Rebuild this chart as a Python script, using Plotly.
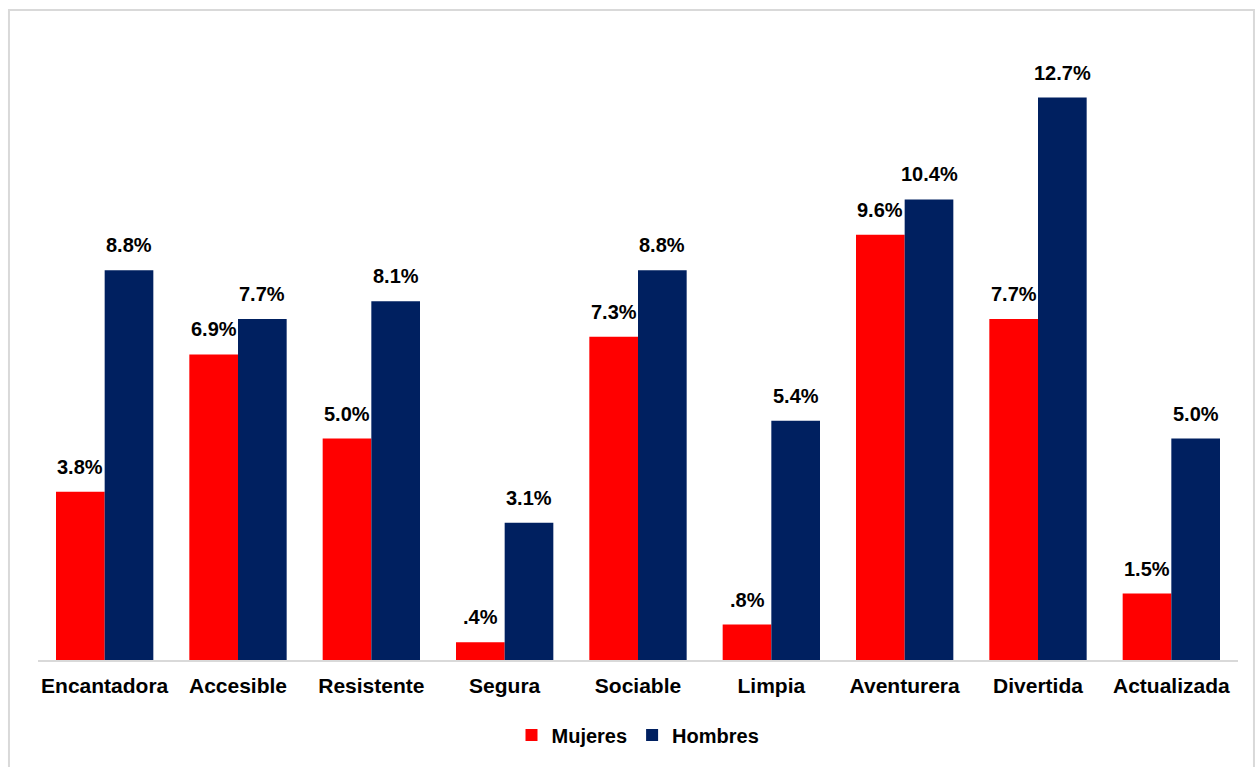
import plotly.graph_objects as go

# Atributos evaluados y porcentaje de menciones por sexo
categorias = ["Encantadora", "Accesible", "Resistente", "Segura", "Sociable",
              "Limpia", "Aventurera", "Divertida", "Actualizada"]
mujeres = [3.8, 6.9, 5.0, 0.4, 7.3, 0.8, 9.6, 7.7, 1.5]
hombres = [8.8, 7.7, 8.1, 3.1, 8.8, 5.4, 10.4, 12.7, 5.0]

ROJO = "#FF0000"
AZUL = "#002060"
GRIS = "#D9D9D9"
FUENTE = "Liberation Sans, Arial, sans-serif"

BARGAP = 0.27


def etiqueta(v):
    # Formato sin cero inicial: 0.4 -> ".4%"
    return f"{v:.1f}%".lstrip("0")


fig = go.Figure()
fig.add_trace(go.Bar(name="Mujeres", x=categorias, y=mujeres, marker_color=ROJO,
                     marker_line_width=0))
fig.add_trace(go.Bar(name="Hombres", x=categorias, y=hombres, marker_color=AZUL,
                     marker_line_width=0))

# Etiquetas de valor encima de cada barra
ancho = (1 - BARGAP) / 2
anotaciones = []
for serie, desplaz in ((mujeres, -ancho / 2), (hombres, ancho / 2)):
    for i, v in enumerate(serie):
        anotaciones.append(dict(
            x=i + desplaz, y=v, xref="x", yref="y", text=etiqueta(v),
            showarrow=False, yanchor="bottom", yshift=12,
            font=dict(family=FUENTE, size=20, color="#000000", weight="bold"),
        ))

fig.update_layout(
    width=1255, height=767,
    margin=dict(l=38, r=17, t=40, b=107),
    paper_bgcolor="white", plot_bgcolor="white",
    barmode="group", bargap=BARGAP, bargroupgap=0,
    font=dict(family=FUENTE, color="#000000"),
    annotations=anotaciones,
    showlegend=True,
    legend=dict(orientation="h", x=0.5, xanchor="center", y=-0.121, yanchor="middle",
                font=dict(family=FUENTE, size=20, weight="bold"),
                itemwidth=30, traceorder="normal"),
    xaxis=dict(showline=True, linecolor=GRIS, linewidth=2, ticks="",
               tickfont=dict(family=FUENTE, size=21, weight="bold", color="#000000"),
               ticklabelstandoff=6, showgrid=False, zeroline=False),
    yaxis=dict(range=[0, 14], visible=False, showgrid=False, zeroline=False),
    shapes=[dict(type="rect", xref="paper", yref="paper",
                 x0=-0.0242, x1=1.0133, y0=-0.2, y1=1.0484,
                 line=dict(color=GRIS, width=2), fillcolor="rgba(0,0,0,0)",
                 layer="below")],
)

fig.write_html("out.html")
